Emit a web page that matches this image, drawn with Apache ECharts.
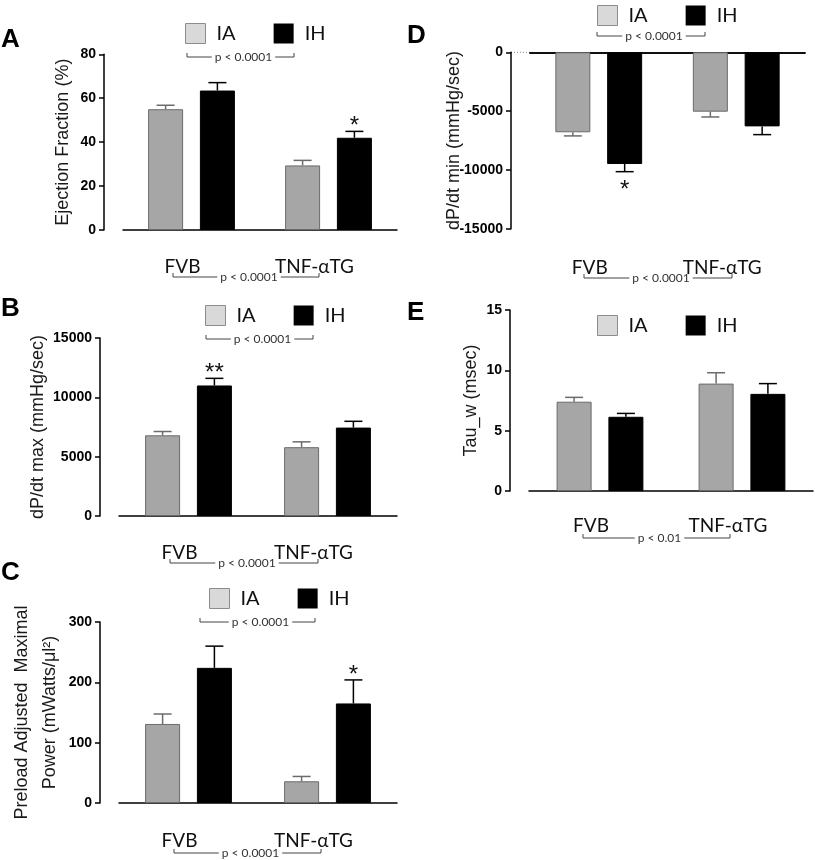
<!DOCTYPE html>
<html>
<head>
<meta charset="utf-8">
<script src="https://cdn.jsdelivr.net/npm/echarts@6/dist/echarts.min.js"></script>
</head>
<body style="margin:0">
<div id="container" style="width:815px;height:860px"></div>
<script>
var categories = ['FVB', 'TNF-αTG'];

// A: ejection fraction (%)
var efIA = [55.0, 29.4], efIAsem = [1.8, 2.3];
var efIH = [63.5, 42.0], efIHsem = [3.6, 2.9];
var efStars = ['', '*'];
var efTicks = [0, 80, 20];

// B: dP/dt max
var maxIA = [6800, 5800], maxIAsem = [320, 450];
var maxIH = [11000, 7450], maxIHsem = [600, 530];
var maxStars = ['**', ''];
var maxTicks = [0, 15000, 5000];

// C: preload adjusted maximal power
var powIA = [131, 36], powIAsem = [16.5, 8];
var powIH = [224, 165], powIHsem = [36, 39];
var powStars = ['', '*'];
var powTicks = [0, 300, 100];

// D: dP/dt min
var minIA = [-6800, -5050], minIAsem = [310, 450];
var minIH = [-9500, -6300], minIHsem = [650, 700];
var minStars = ['*', ''];
var minTicks = [-15000, 0, 5000];

// E: tau_w
var tauIA = [7.4, 8.9], tauIAsem = [0.36, 0.9];
var tauIH = [6.15, 8.05], tauIHsem = [0.28, 0.85];
var tauStars = ['', ''];
var tauTicks = [0, 15, 5];

var BAR_W = 35, GAP = 0.48;
var SHIFT = BAR_W * (1 + GAP) / 2;

var panels = [
  {ia: efIA, iaS: efIAsem, ih: efIH, ihS: efIHsem, stars: efStars, ticks: efTicks,
   name: 'Ejection Fraction (%)', nameGap: 27,
   grid: {left: 123, top: 54.3, width: 274, height: 175.7}, xOff: 18, lblMargin: 9,
   legend: [185, 23]},
  {ia: maxIA, iaS: maxIAsem, ih: maxIH, ihS: maxIHsem, stars: maxStars, ticks: maxTicks,
   name: 'dP/dt max (mmHg/sec)', nameGap: 48,
   grid: {left: 119, top: 338, width: 278, height: 178}, xOff: 20, lblMargin: 7,
   legend: [205, 305]},
  {ia: powIA, iaS: powIAsem, ih: powIH, ihS: powIHsem, stars: powStars, ticks: powTicks,
   name: 'Preload Adjusted  Maximal\nPower (mWatts/μl²)', nameGap: 36,
   grid: {left: 119, top: 622, width: 278, height: 181}, xOff: 20, lblMargin: 8,
   legend: [209, 588]},
  {ia: minIA, iaS: minIAsem, ih: minIH, ihS: minIHsem, stars: minStars, ticks: minTicks,
   name: 'dP/dt min (mmHg/sec)', nameGap: 43, zeroLine: true,
   grid: {left: 530, top: 52.3, width: 275, height: 176.4}, xOff: 19.5, lblMargin: 10,
   legend: [597, 5]},
  {ia: tauIA, iaS: tauIAsem, ih: tauIH, ihS: tauIHsem, stars: tauStars, ticks: tauTicks,
   name: 'Tau_w (msec)', nameGap: 25,
   grid: {left: 529, top: 310, width: 284, height: 181}, xOff: 19, lblMargin: 6,
   legend: [597, 315]}
];

function errSeries(xi, yi, mean, sem, stars, dir, color) {
  return {
    type: 'custom', xAxisIndex: xi, yAxisIndex: yi, silent: true, z: 3,
    data: mean.map(function (m, i) { return [i, m, sem[i]]; }),
    renderItem: function (params, api) {
      var m = api.value(1), s = api.value(2);
      var sign = m < 0 ? -1 : 1;
      var p0 = api.coord([api.value(0), m]);
      var p1 = api.coord([api.value(0), m + sign * s]);
      var x = p0[0] + dir * SHIFT;
      var st = {stroke: color, lineWidth: 1.5};
      var kids = [
        {type: 'line', shape: {x1: x, y1: p0[1], x2: x, y2: p1[1]}, style: st},
        {type: 'line', shape: {x1: x - 9, y1: p1[1], x2: x + 9, y2: p1[1]}, style: st}
      ];
      var star = stars ? stars[params.dataIndex] : '';
      if (star) {
        kids.push({type: 'text', style: {text: star, x: x, y: sign > 0 ? p1[1] - 5 : p1[1] + 19,
          align: 'center', verticalAlign: 'middle', fontSize: 24, fontFamily: 'Liberation Sans', fill: '#111'}});
      }
      return {type: 'group', children: kids};
    }
  };
}

var grids = [], xAxes = [], yAxes = [], series = [], legends = [];
panels.forEach(function (p, gi) {
  grids.push(p.grid);
  var xi = xAxes.length;
  xAxes.push({
    gridIndex: gi, type: 'category', data: categories, position: 'bottom', offset: p.xOff,
    axisLine: {show: true, lineStyle: {color: '#000', width: 1.5}},
    axisTick: {show: false},
    axisLabel: {
      margin: p.lblMargin, color: '#111',
      formatter: function (v) { return v === 'FVB' ? '{a|' + v + '}' : '{b|' + v + '}'; },
      rich: {
        a: {fontFamily: 'Lato', fontSize: 19, color: '#111', padding: [0, 18, 0, 0]},
        b: {fontFamily: 'Lato', fontSize: 19, color: '#111', padding: [0, 28, 0, 0]}
      }
    }
  });
  if (p.zeroLine) {
    xAxes.push({
      gridIndex: gi, type: 'category', data: categories, position: 'top',
      axisLine: {show: true, lineStyle: {color: '#000', width: 1.5}},
      axisTick: {show: false}, axisLabel: {show: false}
    });
  }
  yAxes.push({
    gridIndex: gi, type: 'value', min: p.ticks[0], max: p.ticks[1], interval: p.ticks[2],
    offset: 19,
    axisLine: {show: true, lineStyle: {color: '#000', width: 1.5}},
    axisTick: {show: true, inside: false, length: 5, lineStyle: {color: '#000', width: 1.5}},
    axisLabel: {margin: 8, color: '#000', fontFamily: 'Liberation Sans', fontWeight: 'bold', fontSize: 14,
      formatter: function (v) { return String(v); }},
    splitLine: {show: false},
    name: p.name, nameLocation: 'middle', nameGap: p.nameGap, nameRotate: 90, nameMoveOverlap: false,
    nameTextStyle: {fontFamily: 'Liberation Sans', fontSize: 18, color: '#1a1a1a', lineHeight: 28}
  });
  series.push({
    name: 'IA', type: 'bar', xAxisIndex: xi, yAxisIndex: gi, data: p.ia,
    barWidth: BAR_W, barGap: (GAP * 100) + '%',
    itemStyle: {color: '#a6a6a6', borderColor: '#6b6b6b', borderWidth: 1}
  });
  series.push({
    name: 'IH', type: 'bar', xAxisIndex: xi, yAxisIndex: gi, data: p.ih,
    barWidth: BAR_W, barGap: (GAP * 100) + '%',
    itemStyle: {color: '#000', borderColor: '#000', borderWidth: 1}
  });
  series.push(errSeries(xi, gi, p.ia, p.iaS, null, -1, '#6b6b6b'));
  series.push(errSeries(xi, gi, p.ih, p.ihS, p.stars, 1, '#000'));
  legends.push({
    left: p.legend[0], top: p.legend[1], padding: 0, itemWidth: 20, itemHeight: 20, itemGap: 38,
    icon: 'rect', selectedMode: false,
    textStyle: {fontFamily: 'Lato', fontSize: 20, color: '#111', padding: [0, 0, 0, 6]},
    data: [
      {name: 'IA', itemStyle: {color: '#d9d9d9', borderColor: '#8c8c8c', borderWidth: 1}},
      {name: 'IH', itemStyle: {color: '#000', borderWidth: 0}}
    ]
  });
});

function letter(t, x, y) {
  return {type: 'text', x: x, y: y, style: {text: t, fontFamily: 'Liberation Sans', fontWeight: 'bold',
    fontSize: 26, fill: '#000', verticalAlign: 'middle'}};
}
function bracket(x1, x2, y, t) {
  return {type: 'group', children: [
    {type: 'polyline', shape: {points: [[x1, y - 4], [x1, y], [x2, y], [x2, y - 4]]},
     style: {stroke: '#444', lineWidth: 1, fill: null}},
    {type: 'text', x: (x1 + x2) / 2 + 3, y: y,
     style: {text: t, fontFamily: 'Lato', fontSize: 12, fill: '#333', align: 'center',
       verticalAlign: 'middle', backgroundColor: '#fff', padding: [0, 3]}}
  ]};
}

var graphics = [
  letter('A', 1, 40), letter('B', 1, 309), letter('C', 1, 573), letter('D', 407, 36), letter('E', 407, 313),
  bracket(187, 294, 57, 'p < 0.0001'),
  bracket(173, 319, 277, 'p < 0.0001'),
  bracket(206, 313, 339, 'p < 0.0001'),
  bracket(170, 318, 563, 'p < 0.0001'),
  bracket(200, 315, 622, 'p < 0.0001'),
  bracket(174, 321, 853, 'p < 0.0001'),
  bracket(597, 705, 36, 'p < 0.0001'),
  bracket(584, 732, 278, 'p < 0.0001'),
  bracket(583, 730, 538, 'p < 0.01'),
  {type: 'line', shape: {x1: 511, y1: 52.3, x2: 530, y2: 52.3},
   style: {stroke: '#888', lineWidth: 1, lineDash: [1, 2]}}
];

var chart = echarts.init(document.getElementById('container'));
chart.setOption({
  animation: false,
  backgroundColor: '#fff',
  grid: grids,
  xAxis: xAxes,
  yAxis: yAxes,
  legend: legends,
  series: series,
  graphic: graphics
});
</script>
</body>
</html>
